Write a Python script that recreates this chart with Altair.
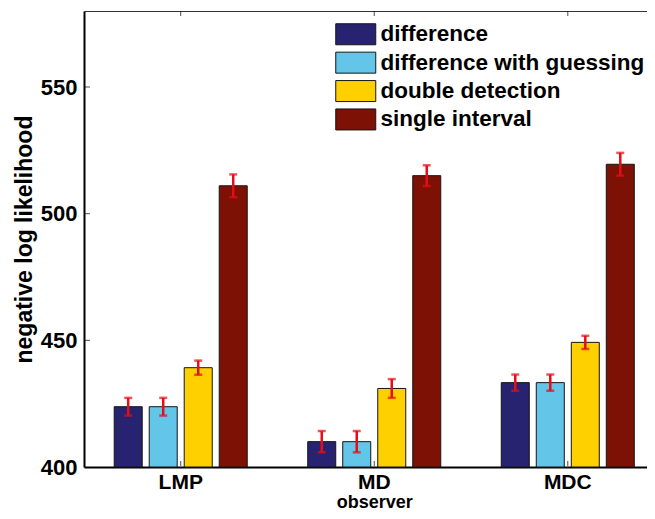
import altair as alt
import pandas as pd

observers = ["LMP", "MD", "MDC"]
models = ["difference", "difference with guessing", "double detection", "single interval"]
nll_difference = [423.8, 410.0, 433.3]
nll_guessing = [423.8, 410.0, 433.3]
nll_double = [439.2, 431.0, 449.2]
nll_single = [511.0, 515.0, 519.5]
err_difference = [3.5, 4.2, 3.2]
err_guessing = [3.5, 4.2, 3.2]
err_double = [2.8, 3.7, 2.6]
err_single = [4.5, 4.1, 4.5]
colors = ["#272370", "#63c5e8", "#ffd000", "#7e1105"]
y_ticks = [400, 450, 500, 550]

rows = []
for m, vals, errs in zip(models,
                         [nll_difference, nll_guessing, nll_double, nll_single],
                         [err_difference, err_guessing, err_double, err_single]):
    for o, v, e in zip(observers, vals, errs):
        rows.append({"observer": o, "model": m, "nll": v, "err": e})
df = pd.DataFrame(rows)

FONT = "Liberation Sans, Arial, Helvetica, sans-serif"
W, H = 563, 456
RED = "#e60d17"

xscale = alt.Scale(domain=observers, range=[0, 580.5], paddingInner=0.2765, paddingOuter=0.138)
xaxis = alt.Axis(title="observer", labelAngle=0, ticks=False, tickSize=0,
                 labelPadding=4, labelFontSize=21, titleFontSize=18,
                 titleBaseline="alphabetic", titleY=40, domainWidth=2, domainColor="black")
top_axis = alt.Axis(orient="top", labels=False, ticks=False, tickSize=0, title=None,
                    domainColor="#333333", domainWidth=1)
yaxis = alt.Axis(title="negative log likelihood", values=y_ticks, ticks=False,
                 tickSize=0, labelPadding=7, labelFontSize=22, titleFontSize=23,
                 titleX=-48, grid=False, domainWidth=2, domainColor="black")
x_main = alt.X("observer:N", scale=xscale, axis=xaxis)
x_plain = alt.X("observer:N", scale=xscale, axis=None)
x_top = alt.X("observer:N", scale=xscale, axis=top_axis)
xoff = alt.XOffset("model:N", sort=models,
                   scale=alt.Scale(domain=models, paddingInner=0.2, paddingOuter=0.1))
yscale = alt.Scale(domain=[400, 580], nice=False, zero=False)
color = alt.Color("model:N", sort=models, scale=alt.Scale(domain=models, range=colors),
                  legend=alt.Legend(title=None, orient="none", legendX=250.5, legendY=12,
                                    symbolType="M-1,-1.05H3V1.05H-1Z", symbolSize=400,
                                    symbolStrokeColor="#151515", symbolStrokeWidth=1,
                                    symbolOpacity=1, labelOffset=23.5, rowPadding=2.4,
                                    labelFontSize=22.5, labelFontWeight="bold",
                                    labelFont=FONT, labelColor="black", padding=0,
                                    labelLimit=400))

base = alt.Chart(df).transform_calculate(lo="datum.nll - datum.err", hi="datum.nll + datum.err")

bars = base.mark_bar(stroke="#151515", strokeWidth=1, opacity=1).encode(
    x=x_main, xOffset=xoff, y=alt.Y("nll:Q", scale=yscale, axis=yaxis),
    y2=alt.datum(400), color=color)

err_rule = base.mark_rule(color=RED, strokeWidth=2.5).encode(
    x=x_plain, xOffset=xoff,
    y=alt.Y("lo:Q", scale=yscale, axis=yaxis), y2="hi:Q")
cap_lo = base.mark_tick(color=RED, thickness=2.5, size=8, orient="horizontal").encode(
    x=x_plain, xOffset=xoff, y=alt.Y("lo:Q", scale=yscale, axis=yaxis))
cap_hi = base.mark_tick(color=RED, thickness=2.5, size=8, orient="horizontal").encode(
    x=x_plain, xOffset=xoff, y=alt.Y("hi:Q", scale=yscale, axis=yaxis))

ytick_df = pd.DataFrame({"v": y_ticks[1:]})
ytick_marks = alt.Chart(ytick_df).mark_tick(orient="horizontal", size=5, thickness=1,
                                            color="black").encode(
    y=alt.Y("v:Q", scale=yscale, axis=yaxis), x=alt.value(3.5))

obs_df = pd.DataFrame({"observer": observers})
xtick_bottom = alt.Chart(obs_df).mark_tick(orient="vertical", size=5, thickness=1,
                                           color="black").encode(
    x=x_plain, y=alt.value(H - 3.5))
xtick_top = alt.Chart(obs_df).mark_tick(orient="vertical", size=5, thickness=1,
                                        color="black").encode(
    x=x_top, y=alt.value(2.5))

chart = alt.layer(bars, err_rule, cap_lo, cap_hi, ytick_marks, xtick_bottom, xtick_top).resolve_axis(
    x="independent"
).properties(
    width=W, height=H,
    autosize=alt.AutoSizeParams(type="none"),
    padding={"left": 76, "top": 3, "right": 0, "bottom": 44},
    background="white",
).configure_view(stroke=None).configure_axis(
    labelFont=FONT, titleFont=FONT, labelFontWeight="bold", titleFontWeight="bold",
    labelColor="black", titleColor="black",
).configure_legend(labelFont=FONT)

chart.save("out.html", embed_options={"renderer": "svg", "actions": False})
